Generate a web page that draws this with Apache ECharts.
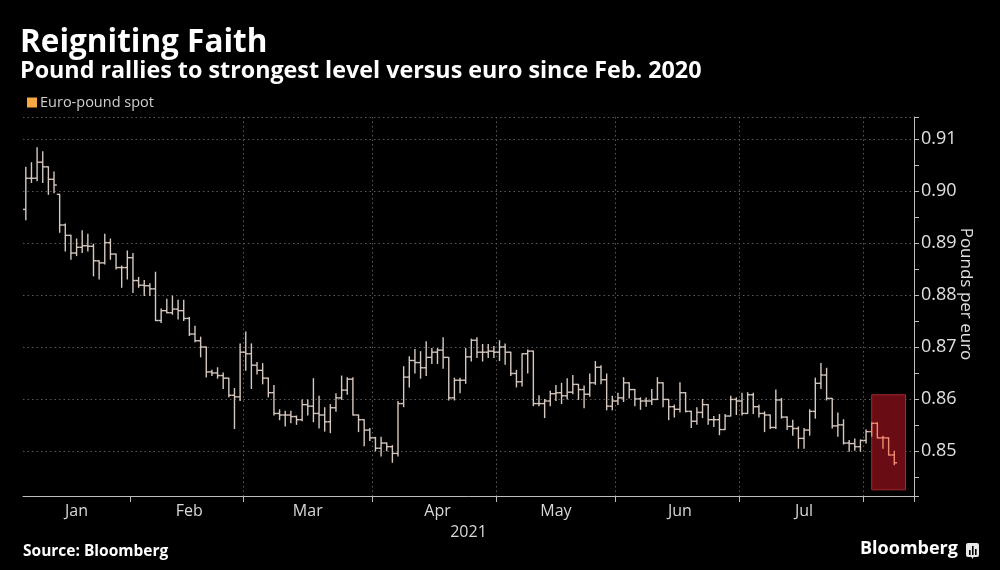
<!DOCTYPE html>
<html>
<head>
<meta charset="utf-8">
<script src="https://cdn.jsdelivr.net/npm/echarts@6/dist/echarts.min.js"></script>
<style>
html,body{margin:0;padding:0;background:#000;}
#chart{width:1000px;height:570px;}
</style>
</head>
<body>
<div id="chart"></div>
<script>
// ---------- data ----------
const dates = [
 // Jan
 '2021-01-05','2021-01-06','2021-01-07','2021-01-08','2021-01-11','2021-01-12','2021-01-13','2021-01-14','2021-01-15','2021-01-18','2021-01-19','2021-01-20','2021-01-21','2021-01-22','2021-01-25','2021-01-26','2021-01-27','2021-01-28','2021-01-29',
 // Feb
 '2021-02-01','2021-02-02','2021-02-03','2021-02-04','2021-02-05','2021-02-08','2021-02-09','2021-02-10','2021-02-11','2021-02-12','2021-02-15','2021-02-16','2021-02-17','2021-02-18','2021-02-19','2021-02-22','2021-02-23','2021-02-24','2021-02-25','2021-02-26',
 // Mar
 '2021-03-01','2021-03-02','2021-03-03','2021-03-04','2021-03-05','2021-03-08','2021-03-09','2021-03-10','2021-03-11','2021-03-12','2021-03-15','2021-03-16','2021-03-17','2021-03-18','2021-03-19','2021-03-22','2021-03-23','2021-03-24','2021-03-25','2021-03-26','2021-03-29','2021-03-30','2021-03-31',
 // Apr
 '2021-04-01','2021-04-02','2021-04-05','2021-04-06','2021-04-07','2021-04-08','2021-04-09','2021-04-12','2021-04-13','2021-04-14','2021-04-15','2021-04-16','2021-04-19','2021-04-20','2021-04-21','2021-04-22','2021-04-23','2021-04-26','2021-04-27','2021-04-28','2021-04-29','2021-04-30',
 // May
 '2021-05-03','2021-05-04','2021-05-05','2021-05-06','2021-05-07','2021-05-10','2021-05-11','2021-05-12','2021-05-13','2021-05-14','2021-05-17','2021-05-18','2021-05-19','2021-05-20','2021-05-21','2021-05-24','2021-05-25','2021-05-26','2021-05-27','2021-05-28','2021-05-31',
 // Jun
 '2021-06-01','2021-06-02','2021-06-03','2021-06-04','2021-06-07','2021-06-08','2021-06-09','2021-06-10','2021-06-11','2021-06-14','2021-06-15','2021-06-16','2021-06-17','2021-06-18','2021-06-21','2021-06-22','2021-06-23','2021-06-24','2021-06-25','2021-06-28','2021-06-29','2021-06-30',
 // Jul
 '2021-07-01','2021-07-02','2021-07-05','2021-07-06','2021-07-07','2021-07-08','2021-07-09','2021-07-12','2021-07-13','2021-07-14','2021-07-15','2021-07-16','2021-07-19','2021-07-20','2021-07-21','2021-07-22','2021-07-23','2021-07-26','2021-07-27','2021-07-28','2021-07-29','2021-07-30',
 // Aug
 '2021-08-02','2021-08-03','2021-08-04','2021-08-05','2021-08-06','2021-08-09',
 // empty days to the right edge of the axis
 '2021-08-10','2021-08-11','2021-08-12'
];

const open = [
 .8965,.9025,.9025,.9056,.9047,.9023,.8994,.8935,.8915,.8881,.8892,.8895,.8894,.8866,.8862,.8901,.8879,.8853,.8853,
 .8872,.8828,.8819,.8818,.8812,.8751,.8770,.8766,.8773,.8770,.8755,.8725,.8712,.8700,.8652,.8650,.8645,.8640,.8607,.8604,
 .8690,.8687,.8665,.8655,.8640,.8612,.8572,.8569,.8569,.8566,.8560,.8589,.8586,.8572,.8569,.8556,.8583,.8602,.8617,.8638,.8569,.8560,.8540,
 .8525,.8505,.8515,.8508,.8495,.8591,.8642,.8674,.8670,.8660,.8680,.8690,.8694,.8680,.8602,.8636,.8636,.8681,.8713,.8690,.8690,.8692,
 .8690,.8700,.8690,.8649,.8633,.8687,.8692,.8591,.8591,.8596,.8610,.8612,.8606,.8613,.8628,.8618,.8609,.8631,.8661,.8637,.8586,
 .8596,.8602,.8631,.8618,.8600,.8596,.8596,.8599,.8631,.8599,.8585,.8580,.8612,.8576,.8557,.8574,.8589,.8560,.8560,.8541,.8567,.8599,
 .8596,.8572,.8608,.8585,.8572,.8569,.8545,.8598,.8565,.8547,.8543,.8524,.8540,.8576,.8630,.8646,.8601,.8548,.8550,.8515,.8514,.8508,
 .8520,.8537,.8553,.8525,.8525,.8492
];
const high = [
 .9046,.9055,.9084,.9076,.9047,.9037,.8994,.8937,.8915,.8908,.8924,.8917,.8898,.8866,.8917,.8908,.8879,.8856,.8885,
 .8880,.8834,.8828,.8822,.8844,.8773,.8792,.8798,.8790,.8790,.8757,.8740,.8719,.8700,.8655,.8660,.8650,.8640,.8620,.8706,
 .8729,.8706,.8670,.8668,.8640,.8626,.8579,.8576,.8576,.8567,.8598,.8598,.8639,.8605,.8583,.8589,.8610,.8644,.8641,.8641,.8569,.8560,.8543,
 .8526,.8526,.8515,.8510,.8595,.8662,.8681,.8695,.8691,.8710,.8697,.8697,.8718,.8680,.8640,.8640,.8697,.8715,.8718,.8705,.8705,.8701,
 .8712,.8706,.8690,.8655,.8687,.8694,.8692,.8606,.8599,.8615,.8626,.8630,.8639,.8645,.8628,.8625,.8648,.8672,.8664,.8648,.8605,
 .8611,.8641,.8631,.8618,.8602,.8602,.8618,.8641,.8631,.8599,.8588,.8631,.8612,.8576,.8583,.8599,.8589,.8566,.8570,.8570,.8605,.8602,
 .8611,.8612,.8611,.8588,.8575,.8569,.8617,.8601,.8565,.8559,.8546,.8543,.8579,.8640,.8668,.8659,.8601,.8573,.8560,.8520,.8523,.8521,
 .8540,.8554,.8554,.8528,.8525,.8499
];
const low = [
 .8945,.9017,.9020,.9017,.8994,.8997,.8921,.8885,.8869,.8876,.8882,.8885,.8837,.8831,.8860,.8869,.8850,.8815,.8831,
 .8805,.8815,.8799,.8799,.8751,.8747,.8766,.8763,.8754,.8751,.8722,.8710,.8681,.8642,.8645,.8640,.8620,.8604,.8543,.8597,
 .8655,.8620,.8648,.8629,.8604,.8569,.8560,.8548,.8554,.8551,.8558,.8569,.8556,.8544,.8538,.8535,.8576,.8599,.8609,.8569,.8537,.8510,.8520,
 .8500,.8490,.8500,.8478,.8490,.8585,.8623,.8650,.8640,.8645,.8668,.8668,.8659,.8598,.8598,.8612,.8630,.8673,.8680,.8673,.8680,.8680,
 .8674,.8667,.8645,.8623,.8625,.8650,.8587,.8587,.8564,.8587,.8597,.8591,.8600,.8610,.8599,.8583,.8605,.8628,.8629,.8579,.8579,
 .8589,.8595,.8602,.8587,.8580,.8586,.8589,.8599,.8585,.8560,.8565,.8575,.8575,.8545,.8551,.8564,.8551,.8547,.8531,.8541,.8567,.8570,
 .8569,.8572,.8572,.8565,.8537,.8543,.8543,.8563,.8541,.8530,.8505,.8505,.8530,.8563,.8620,.8598,.8544,.8528,.8513,.8499,.8501,.8499,
 .8515,.8528,.8525,.8505,.8492,.8473
];
const close = [
 .9025,.9025,.9056,.9047,.9023,.9012,.8935,.8915,.8881,.8892,.8895,.8894,.8866,.8862,.8901,.8879,.8853,.8853,.8872,
 .8828,.8819,.8818,.8812,.8751,.8770,.8766,.8773,.8770,.8755,.8725,.8712,.8700,.8652,.8650,.8645,.8640,.8607,.8604,.8690,
 .8687,.8665,.8655,.8640,.8612,.8572,.8569,.8569,.8566,.8560,.8589,.8586,.8572,.8569,.8556,.8583,.8602,.8617,.8638,.8569,.8560,.8540,.8525,
 .8505,.8515,.8508,.8495,.8591,.8642,.8674,.8670,.8660,.8680,.8690,.8694,.8680,.8602,.8636,.8636,.8681,.8713,.8690,.8690,.8692,.8690,
 .8700,.8690,.8649,.8633,.8687,.8692,.8591,.8591,.8596,.8610,.8612,.8606,.8613,.8628,.8618,.8609,.8631,.8661,.8637,.8586,.8596,
 .8602,.8631,.8618,.8600,.8596,.8596,.8599,.8631,.8599,.8585,.8580,.8612,.8576,.8557,.8574,.8589,.8560,.8560,.8541,.8567,.8599,.8596,
 .8572,.8608,.8585,.8572,.8569,.8545,.8598,.8565,.8547,.8543,.8524,.8540,.8576,.8630,.8646,.8601,.8548,.8550,.8515,.8514,.8508,.8520,
 .8537,.8553,.8525,.8525,.8492,.8477
];

// highlighted recent stretch (category index range) and its value span
const highlightFrom = 150;
const highlightTo = 156;
const highlightTop = 0.8608;
const highlightBottom = 0.8425;

const yTicks = [0.85, 0.86, 0.87, 0.88, 0.89, 0.90, 0.91];
const monthNames = ['Jan','Feb','Mar','Apr','May','Jun','Jul'];

// ---------- helpers ----------
const monthStart = new Set();
dates.forEach((d, i) => {
  if (i > 0 && d.slice(5, 7) !== dates[i - 1].slice(5, 7)) monthStart.add(i);
});
// label at the middle day of each labelled month
const monthMid = {};
monthNames.forEach((m, k) => {
  const mm = String(k + 1).padStart(2, '0');
  const idx = dates.map((d, i) => d.slice(5, 7) === mm ? i : -1).filter(i => i >= 0);
  monthMid[idx[Math.floor(idx.length / 2)]] = m;
});

const ohlc = open.map((o, i) => [i, o, high[i], low[i], close[i]]);

const BAR = '#d6c8bf';
const BAR_HI = '#f08c74';

const chart = echarts.init(document.getElementById('chart'), null, {renderer: 'canvas'});

const gridLineColors = [];
for (let i = 0; i < monthStart.size + 2; i++) gridLineColors.push(i === 0 ? 'rgba(0,0,0,0)' : '#5a5a5a');

chart.setOption({
  backgroundColor: '#000',
  animation: false,
  textStyle: {fontFamily: 'Open Sans'},
  title: [
    {text: 'Reigniting Faith', left: 20, top: 27, padding: 0,
     textStyle: {color: '#fff', fontSize: 31.5, fontWeight: 'bold', fontFamily: 'Open Sans'}},
    {text: 'Pound rallies to strongest level versus euro since Feb. 2020', left: 20, top: 60, padding: 0,
     textStyle: {color: '#fff', fontSize: 23.3, fontWeight: 'bold', fontFamily: 'Open Sans'}}
  ],
  legend: {
    left: 27, top: 95, padding: 0,
    data: ['Euro-pound spot'],
    icon: 'rect', itemWidth: 10, itemHeight: 10, itemGap: 4,
    textStyle: {color: '#cfcfcf', fontSize: 14.5, fontFamily: 'Open Sans', padding: [0, 0, 0, -2]}
  },
  grid: {left: 23, right: 86, top: 117, bottom: 74, containLabel: false},
  xAxis: {
    type: 'category',
    data: dates,
    boundaryGap: true,
    axisLine: {show: true, lineStyle: {color: '#bdbdbd', width: 1}},
    axisTick: {show: true, interval: (i) => monthStart.has(i), length: 6, lineStyle: {color: '#bdbdbd'}},
    splitLine: {show: true, interval: (i) => monthStart.has(i),
                lineStyle: {color: gridLineColors, type: [1.5, 3], width: 1}},
    axisLabel: {interval: (i) => monthMid[i] !== undefined, formatter: (v, i) => monthMid[i] || '',
                color: '#d8d8d8', fontSize: 16, margin: 7, fontFamily: 'Open Sans'},
    name: '2021', nameLocation: 'middle', nameGap: 28,
    nameTextStyle: {color: '#d8d8d8', fontSize: 16, fontFamily: 'Open Sans'}
  },
  yAxis: {
    type: 'value',
    position: 'right',
    min: 0.8413, max: 0.9143,
    splitNumber: 7, minInterval: 0.01, maxInterval: 0.01,
    scale: true,
    axisLine: {show: true, lineStyle: {color: '#bdbdbd', width: 1}},
    axisTick: {show: true, length: 5, lineStyle: {color: '#bdbdbd'}},
    minorTick: {show: true, splitNumber: 2, length: 5, lineStyle: {color: '#bdbdbd'}},
    splitLine: {show: true, lineStyle: {color: '#5a5a5a', type: [1.5, 3], width: 1}},
    axisLabel: {
      color: '#e0e0e0', fontSize: 18, margin: 7, fontFamily: 'Open Sans',
      formatter: (v) => {
        const hit = yTicks.find(t => Math.abs(t - v) < 1e-6);
        return hit !== undefined ? hit.toFixed(2) : '';
      }
    }
  },
  series: [
    {
      name: 'highlight',
      type: 'custom',
      silent: true,
      z: 1,
      data: [[highlightFrom, highlightTo, highlightTop, highlightBottom]],
      encode: {x: [0, 1], y: [2, 3]},
      renderItem: (params, api) => {
        const p1 = api.coord([api.value(0), api.value(2)]);
        const p2 = api.coord([api.value(1), api.value(3)]);
        return {
          type: 'rect',
          shape: {x: p1[0], y: p1[1], width: p2[0] - p1[0], height: p2[1] - p1[1]},
          style: {fill: '#6a0c14', stroke: '#a52a30', lineWidth: 1}
        };
      }
    },
    {
      name: 'Euro-pound spot',
      type: 'custom',
      z: 3,
      itemStyle: {color: '#f5a742'},
      data: ohlc,
      encode: {x: 0, y: [1, 2, 3, 4]},
      renderItem: (params, api) => {
        const idx = api.value(0);
        const pH = api.coord([idx, api.value(2)]);
        const pL = api.coord([idx, api.value(3)]);
        const pO = api.coord([idx, api.value(1)]);
        const pC = api.coord([idx, api.value(4)]);
        const w = api.size([1, 0])[0] * 0.5;
        const col = idx >= highlightFrom ? BAR_HI : BAR;
        const st = {stroke: col, lineWidth: 1.4};
        return {
          type: 'group',
          children: [
            {type: 'line', shape: {x1: pH[0], y1: pH[1] - 0.5, x2: pL[0], y2: pL[1] + 0.5}, style: st},
            {type: 'line', shape: {x1: pO[0] - w, y1: pO[1], x2: pO[0], y2: pO[1]}, style: st},
            {type: 'line', shape: {x1: pC[0], y1: pC[1], x2: pC[0] + w, y2: pC[1]}, style: st}
          ]
        };
      }
    }
  ],
  graphic: [
    {type: 'text', x: 966, y: 294, rotation: -Math.PI / 2,
     style: {text: 'Pounds per euro', fill: '#e0e0e0', font: '17px "Open Sans"', align: 'center', verticalAlign: 'middle'}},
    {type: 'text', left: 23, top: 544,
     style: {text: 'Source: Bloomberg', fill: '#ffffff', font: 'bold 15.5px "Open Sans"'}},
    {type: 'text', left: 860, top: 540,
     style: {text: 'Bloomberg', fill: '#ffffff', font: 'bold 18px "Open Sans"'}},
    {type: 'group', left: 966, top: 543, children: [
      {type: 'rect', shape: {x: 0, y: 0, width: 13, height: 14, r: 2}, style: {fill: '#e8e8e8'}},
      {type: 'polygon', shape: {points: [[5, 13], [8, 13], [6.5, 16]]}, style: {fill: '#e8e8e8'}},
      {type: 'rect', shape: {x: 3, y: 7, width: 1.6, height: 5}, style: {fill: '#000'}},
      {type: 'rect', shape: {x: 6, y: 3, width: 1.6, height: 9}, style: {fill: '#000'}},
      {type: 'rect', shape: {x: 9, y: 6, width: 1.6, height: 6}, style: {fill: '#000'}}
    ]}
  ]
});
</script>
</body>
</html>
